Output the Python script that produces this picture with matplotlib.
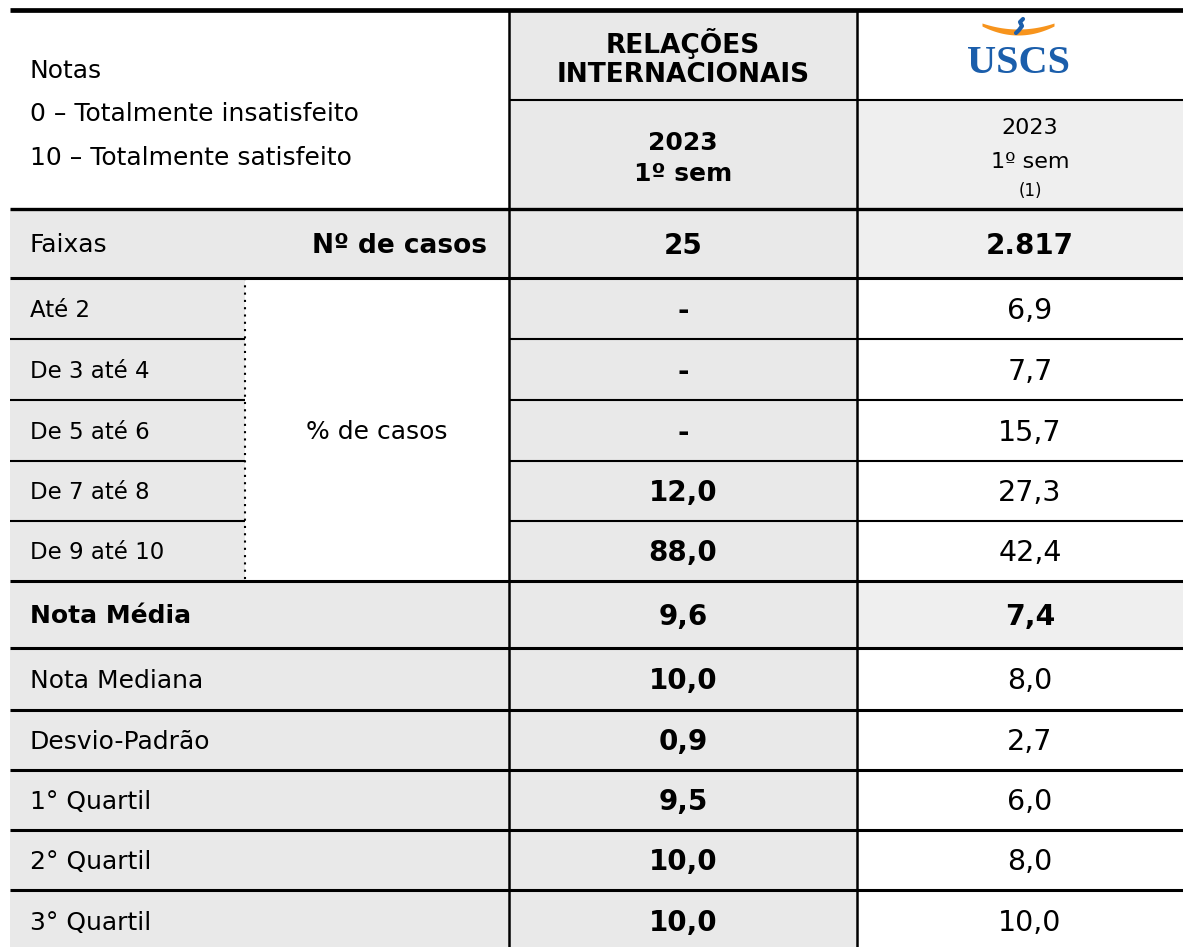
# -*- coding: utf-8 -*-
"""
Tabela de satisfação - Relações Internacionais x USCS (2023 1º sem)
"""

import numpy as np
import matplotlib.pyplot as plt
from matplotlib.patches import Rectangle

plt.rcParams["font.family"] = "DejaVu Sans"

# Dados da tabela
notas = ["Notas", "0 – Totalmente insatisfeito", "10 – Totalmente satisfeito"]
curso = ["RELAÇÕES", "INTERNACIONAIS"]
periodo = ["2023", "1º sem"]
n_casos = ["25", "2.817"]
faixas = ["Até 2", "De 3 até 4", "De 5 até 6", "De 7 até 8", "De 9 até 10"]
ri_faixas = ["-", "-", "-", "12,0", "88,0"]
uscs_faixas = ["6,9", "7,7", "15,7", "27,3", "42,4"]
estatisticas = ["Nota Média", "Nota Mediana", "Desvio-Padrão",
                "1° Quartil", "2° Quartil", "3° Quartil"]
ri_estat = ["9,6", "10,0", "0,9", "9,5", "10,0", "10,0"]
uscs_estat = ["7,4", "8,0", "2,7", "6,0", "8,0", "10,0"]

# Layout (em pixels da imagem)
x0, xdot, x1, x2, x3 = 10, 245, 509, 857, 1190
cx_ri, cx_uscs = 683, 1030
y_top, y_split, y_head = 10, 100, 209
row_edges = [209, 278, 339, 400, 461, 521, 581, 648, 710, 770, 830, 890, 952]
gray = "#E9E9E9"
gray_light = "#EFEFEF"

fig = plt.figure(figsize=(11.83, 9.47), dpi=100)
ax = fig.add_axes([0, 0, 1, 1])
ax.set_xlim(0, 1183)
ax.set_ylim(947, 0)
ax.axis("off")


def cell(xa, xb, ya, yb, color):
    ax.add_patch(Rectangle((xa, ya), xb - xa, yb - ya, fc=color, ec="none", zorder=0))


# Fundos do cabeçalho
cell(x1, x2, y_top, y_head, gray)
cell(x2, x3, y_split, y_head, gray_light)

# Linha "Faixas"
cell(x0, x2, row_edges[0], row_edges[1], gray)
cell(x2, x3, row_edges[0], row_edges[1], gray_light)

# Linhas das faixas
for i in range(len(faixas)):
    ya, yb = row_edges[i + 1], row_edges[i + 2]
    cell(x0, xdot, ya, yb, gray)
    cell(x1, x2, ya, yb, gray)

# Linhas das estatísticas
n0 = len(faixas) + 1
for i in range(len(estatisticas)):
    ya, yb = row_edges[n0 + i], row_edges[n0 + i + 1]
    cell(x0, x2, ya, yb, gray)
    if i == 0:
        cell(x2, x3, ya, yb, gray_light)

# Linhas horizontais
ax.hlines(y_top, x0, x3, colors="black", lw=3.4)
ax.hlines(y_split, x1, x3, colors="black", lw=1.5)
ax.hlines(row_edges[0], x0, x3, colors="black", lw=2.4)
ax.hlines(row_edges[1], x0, x3, colors="black", lw=2.2)
for i in range(2, n0):
    ax.hlines(row_edges[i], x0, xdot, colors="black", lw=1.5)
    ax.hlines(row_edges[i], x1, x3, colors="black", lw=1.5)
for i in range(n0, len(row_edges) - 1):
    ax.hlines(row_edges[i], x0, x3, colors="black", lw=2.2)

# Linhas verticais
ax.vlines([x1, x2], y_top, 947, colors="black", lw=1.8)
ax.vlines(xdot, row_edges[1], row_edges[n0], colors="black", lw=1.5,
          linestyles=(0, (1, 2.5)))

# Texto do cabeçalho
for i, txt in enumerate(notas):
    ax.text(30, [68, 111, 155][i], txt, fontsize=18, ha="left", va="center_baseline")
ax.text(cx_ri, 40, curso[0], fontsize=19, fontweight="bold", ha="center", va="center_baseline")
ax.text(cx_ri, 72, curso[1], fontsize=19, fontweight="bold", ha="center", va="center_baseline")
ax.text(cx_ri, 140, periodo[0], fontsize=18, fontweight="bold", ha="center", va="center_baseline")
ax.text(cx_ri, 171, periodo[1], fontsize=18, fontweight="bold", ha="center", va="center_baseline")
ax.text(cx_uscs, 126, periodo[0], fontsize=16, ha="center", va="center_baseline")
ax.text(cx_uscs, 160, periodo[1], fontsize=16, ha="center", va="center_baseline")
ax.text(cx_uscs, 189, "(1)", fontsize=12, ha="center", va="center_baseline")

# Logo USCS
t = np.linspace(-1, 1, 80)
ax.fill_between(1018 + 36 * t, 23 + 6 * (1 - t ** 2), 26 + 9 * (1 - t ** 2),
                color="#F7941D", lw=0)
ax.plot([1023, 1020, 1022, 1019, 1016], [19, 22, 26, 30, 33], color="#1B5EAB",
        lw=3, solid_capstyle="round")
ax.text(1019, 73, "USCS", family="Liberation Serif", fontsize=29, fontweight="bold",
        color="#1B5EAB", ha="center", va="baseline")

# Linha Faixas / Nº de casos
yc = (row_edges[0] + row_edges[1]) / 2 - 1
ax.text(30, yc, "Faixas", fontsize=18, ha="left", va="center_baseline")
ax.text(487, yc, "Nº de casos", fontsize=19, fontweight="bold", ha="right", va="center_baseline")
ax.text(cx_ri, yc, n_casos[0], fontsize=20, fontweight="bold", ha="center", va="center_baseline")
ax.text(cx_uscs, yc, n_casos[1], fontsize=20, fontweight="bold", ha="center", va="center_baseline")

# Faixas de notas
for i in range(len(faixas)):
    yc = (row_edges[i + 1] + row_edges[i + 2]) / 2 - 1
    ax.text(30, yc, faixas[i], fontsize=16.5, ha="left", va="center_baseline")
    ax.text(cx_ri, yc, ri_faixas[i], fontsize=20, fontweight="bold", ha="center", va="center_baseline")
    ax.text(cx_uscs, yc, uscs_faixas[i], fontsize=20.5, ha="center", va="center_baseline")
ax.text(377, (row_edges[1] + row_edges[n0]) / 2, "% de casos", fontsize=18,
        ha="center", va="center_baseline")

# Estatísticas
for i in range(len(estatisticas)):
    yc = (row_edges[n0 + i] + row_edges[n0 + i + 1]) / 2 - 1
    peso = "bold" if i == 0 else "normal"
    ax.text(30, yc, estatisticas[i], fontsize=18, fontweight=peso, ha="left", va="center_baseline")
    ax.text(cx_ri, yc, ri_estat[i], fontsize=20, fontweight="bold", ha="center", va="center_baseline")
    ax.text(cx_uscs, yc, uscs_estat[i], fontsize=20.5, fontweight=peso, ha="center", va="center_baseline")

# Salvando a imagem
fig.savefig("out.png", dpi=100)
